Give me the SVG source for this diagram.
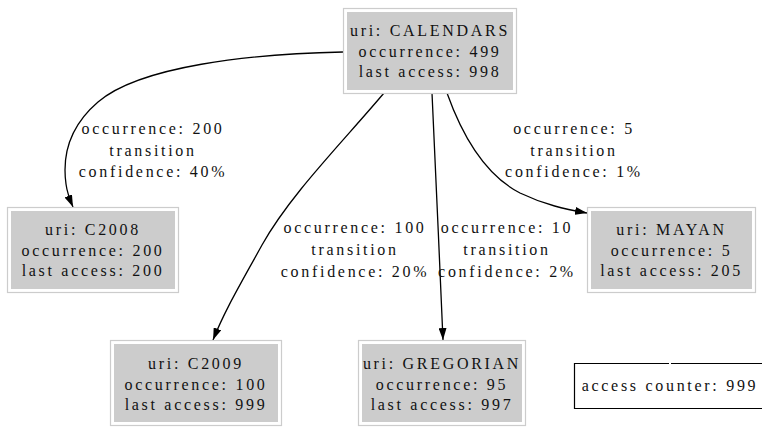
<svg xmlns="http://www.w3.org/2000/svg" width="762" height="427" viewBox="0 0 762 427">
<style>
  text { font-family: "Liberation Serif", "Times New Roman", serif; font-size: 16px; fill: #111; letter-spacing: 2.7px; text-anchor: middle; }
  .outer { fill: #ffffff; stroke: #cccccc; stroke-width: 1.2; }
  .inner { fill: #cccccc; stroke: #cccccc; stroke-width: 1; }
  .edge { fill: none; stroke: #000; stroke-width: 1.3; marker-end: url(#arrow); }
  .box { fill: #ffffff; stroke: #000; stroke-width: 1.2; }
</style>
<defs>
  <marker id="arrow" viewBox="0 0 12 8" refX="12" refY="4" markerWidth="12" markerHeight="8" markerUnits="userSpaceOnUse" orient="auto">
    <path d="M0,0 L12,4 L0,8 z" fill="#000"/>
  </marker>
</defs>
<rect width="762" height="427" fill="#ffffff"/>

<g id="edges">
  <path class="edge" d="M343,52 C250,54 140,66 98,102 C70,126 62,155 66,184 C67,192 70,200 73,207"/>
  <path class="edge" d="M384,93 C340,145 290,195 262,245 C240,285 225,310 213,340"/>
  <path class="edge" d="M432,93 C435,170 440,260 443,340"/>
  <path class="edge" d="M447,93 C462,135 485,175 520,193 C545,205 565,209 587,213"/>
  <g id="edge-labels">
    <text x="153" y="134">occurrence: 200</text>
    <text x="153" y="155.5">transition</text>
    <text x="153" y="177">confidence: 40%</text>
    <text x="355" y="233">occurrence: 100</text>
    <text x="355" y="255">transition</text>
    <text x="355" y="277">confidence: 20%</text>
    <text x="507" y="233">occurrence: 10</text>
    <text x="507" y="255">transition</text>
    <text x="507" y="277">confidence: 2%</text>
    <text x="574" y="134">occurrence: 5</text>
    <text x="574" y="155.5">transition</text>
    <text x="574" y="177">confidence: 1%</text>
  </g>
</g>

<g id="CALENDARS">
  <rect class="outer" x="343.5" y="8.5" width="173" height="85"/>
  <rect class="inner" x="347.5" y="12.5" width="165" height="77"/>
  <text x="430" y="36">uri: CALENDARS</text>
  <text x="430" y="56.5">occurrence: 499</text>
  <text x="430" y="77">last access: 998</text>
</g>

<g id="C2008">
  <rect class="outer" x="7.5" y="207.5" width="171" height="85"/>
  <rect class="inner" x="11.5" y="211.5" width="163" height="77"/>
  <text x="93" y="235">uri: C2008</text>
  <text x="93" y="255.5">occurrence: 200</text>
  <text x="93" y="276">last access: 200</text>
</g>

<g id="MAYAN">
  <rect class="outer" x="587.5" y="207.5" width="168" height="85"/>
  <rect class="inner" x="591.5" y="211.5" width="160" height="77"/>
  <text x="671.5" y="235">uri: MAYAN</text>
  <text x="671.5" y="255.5">occurrence: 5</text>
  <text x="671.5" y="276">last access: 205</text>
</g>

<g id="C2009">
  <rect class="outer" x="110.5" y="340.5" width="171" height="85"/>
  <rect class="inner" x="114.5" y="344.5" width="163" height="77"/>
  <text x="196" y="369">uri: C2009</text>
  <text x="196" y="389.5">occurrence: 100</text>
  <text x="196" y="410">last access: 999</text>
</g>

<g id="GREGORIAN">
  <rect class="outer" x="358.5" y="340.5" width="167" height="85"/>
  <rect class="inner" x="362.5" y="344.5" width="159" height="77"/>
  <text x="442" y="369">uri: GREGORIAN</text>
  <text x="442" y="389.5">occurrence: 95</text>
  <text x="442" y="410">last access: 997</text>
</g>

<g id="access-counter">
  <path class="box" d="M762,363.5 L671,363.5 M669,363.5 L574.5,363.5 L574.5,408.5 L762,408.5"/>
  <text x="670" y="391">access counter: 999</text>
</g>
</svg>
